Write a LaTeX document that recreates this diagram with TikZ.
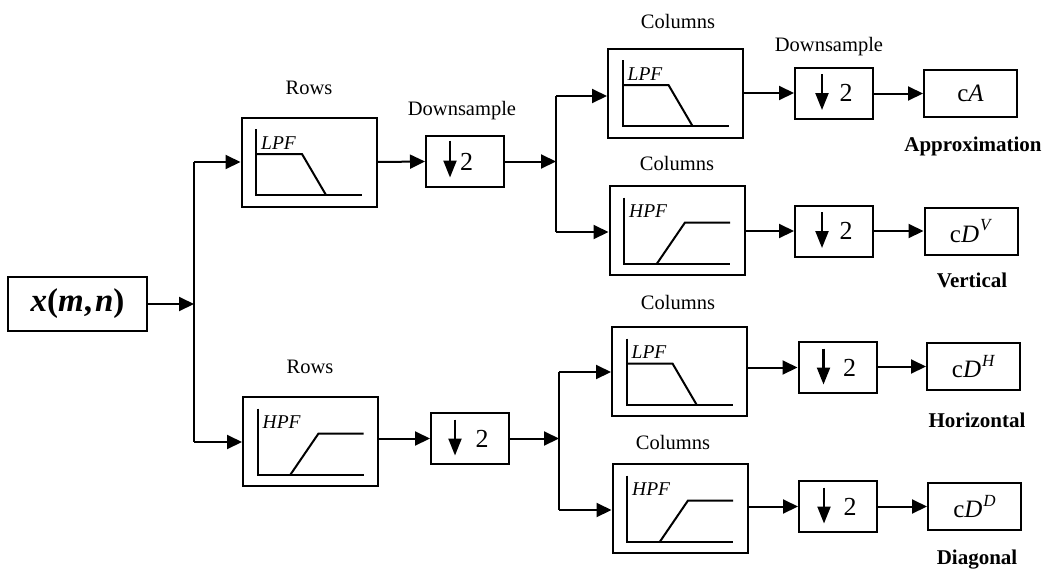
\documentclass[tikz,border=0pt]{standalone}
\usepackage{fontspec}
\setmainfont{Liberation Serif}
\usetikzlibrary{arrows.meta,calc}
\tikzset{
 blk/.style={draw, line width=2pt, inner sep=0pt},
 filt/.style={blk, minimum width=135pt, minimum height=89pt},
 dsbox/.style={blk, minimum width=78pt, minimum height=51pt, font=\fontsize{26}{28}\selectfont},
 outbox/.style={blk, minimum width=93pt, minimum height=47pt, font=\fontsize{25}{28}\selectfont},
 conn/.style={line width=2pt, -{Triangle[length=15pt,width=14pt]}},
 wire/.style={line width=2pt},
 glyph/.style={line width=2.2pt, -{Triangle[length=17pt,width=13pt]}},
 lbl/.style={font=\fontsize{20.5}{24}\selectfont, inner sep=0pt},
 blbl/.style={font=\bfseries\fontsize{21}{24}\selectfont, inner sep=0pt},
 gline/.style={line width=2pt},
 flab/.style={font=\itshape\fontsize{19.5}{22}\selectfont, inner sep=0pt, anchor=base west},
 lpf/.pic={\draw[gline] (-53,-33) -- (-53,33) -- (53,33);
           \draw[gline] (-53,-8) -- (-7,-8) -- (17,33);
           \node[flab] (-t) at (-48,-13) {LPF};},
 hpf/.pic={\draw[gline] (-53,-33) -- (-53,33) -- (53,33);
           \draw[gline] (-20,33) -- (8,-8) -- (53,-8);
           \node[flab] (-t) at (-48,-13) {HPF};}
}
\newcommand{\supit}[1]{\kern1pt\raisebox{0.45em}{\fontsize{17}{17}\selectfont\textit{#1}}}
\begin{document}
\begin{tikzpicture}[x=1pt,y=-1pt]
\useasboundingbox (0,0) rectangle (1052,571);
% input
\node[blk, minimum width=139pt, minimum height=54pt, font=\bfseries\fontsize{33}{36}\selectfont] (in) at (77.5,304) {\textit{x}(\textit{m},\kern3pt\textit{n})};
% row filters
\node[filt] (rowL) at (309,162) {};
\pic (gRL) at (rowL.center) {lpf};
\node[filt] (rowH) at (310.5,441.5) {};
\pic (gRH) at (rowH.center) {hpf};
\node[lbl] (tRows1) at (309,88) {Rows};
\node[lbl] (tRows2) at (310,367) {Rows};
% split 1
\coordinate (s1t) at (194,162);
\coordinate (s1b) at (194,442);
\draw[wire] (s1t) -- (s1b);
\draw[conn] (in.east) -- (in.east -| s1t);
\draw[conn] (s1t) -- (rowL.west);
\draw[conn] (s1b) -- (s1b -| rowH.west);
% row downsamplers
\node[dsbox] (dsR1) at (465,161.5) {\hspace*{3pt}2};
\draw[glyph] ($(dsR1.center)+(-15,-21)$) -- ++(0,37);
\node[dsbox] (dsR2) at (470,438.5) {\hspace*{24pt}2};
\draw[glyph] ($(dsR2.center)+(-15,-19)$) -- ++(0,36);
\node[lbl] (tDs1) at (462,111) {Downsample};
\draw[conn] (rowL.east) -- (dsR1.west);
\draw[conn] (rowH.east |- dsR2.west) -- (dsR2.west);
% split 2
\coordinate (s2t) at (556,96);
\coordinate (s2b) at (556,232);
\coordinate (s2m) at (556,162);
\draw[wire] (s2t) -- (s2b);
\draw[conn] (dsR1.east) -- (dsR1.east -| s2m);
% column filters upper
\node[filt] (colLL) at (675.5,93) {};
\pic (gLL) at (colLL.center) {lpf};
\node[filt] (colLH) at (677,230.5) {};
\pic (gLH) at (colLH.center) {hpf};
\node[lbl] (tCol1) at (678,21) {Columns};
\node[lbl] (tCol2) at (677,163) {Columns};
\draw[conn] (s2t) -- (s2t -| colLL.west);
\draw[conn] (s2b) -- (s2b -| colLH.west);
% downsamplers upper
\node[dsbox] (dsLL) at (834,93) {\hspace*{24pt}2};
\draw[glyph] ($(dsLL.center)+(-12,-19)$) -- ++(0,36);
\node[dsbox] (dsLH) at (834,231) {\hspace*{24pt}2};
\draw[glyph] ($(dsLH.center)+(-12,-19)$) -- ++(0,36);
\node[lbl] (tDs2) at (829,47) {Downsample};
\draw[conn] (colLL.east |- dsLL.west) -- (dsLL.west);
\draw[conn] (colLH.east |- dsLH.west) -- (dsLH.west);
% outputs upper
\node[outbox] (cA) at (970.5,93.5) {c\textit{A}};
\node[outbox] (cDV) at (971,231) {c\textit{D}\supit{V}};
\draw[conn] (dsLL.east |- cA.west) -- (cA.west);
\draw[conn] (dsLH.east |- cDV.west) -- (cDV.west);
\node[blbl] (tApp) at (973,146) {Approximation};
\node[blbl] (tVer) at (972,280) {Vertical};
% split 3
\coordinate (s3t) at (559,372);
\coordinate (s3b) at (559,510);
\coordinate (s3m) at (559,439);
\draw[wire] (s3t) -- (s3b);
\draw[conn] (dsR2.east) -- (dsR2.east -| s3m);
% column filters lower
\node[filt] (colHL) at (679.5,371.5) {};
\pic (gHL) at (colHL.center) {lpf};
\node[filt] (colHH) at (680,508.5) {};
\pic (gHH) at (colHH.center) {hpf};
\node[lbl] (tCol3) at (678,302) {Columns};
\node[lbl] (tCol4) at (673,442) {Columns};
\draw[conn] (s3t) -- (s3t -| colHL.west);
\draw[conn] (s3b) -- (s3b -| colHH.west);
% downsamplers lower
\node[dsbox] (dsHL) at (837.5,367.5) {\hspace*{24pt}2};
\draw[glyph] ($(dsHL.center)+(-14,-19)$) -- ++(0,36);
\node[dsbox] (dsHH) at (838,506.5) {\hspace*{24pt}2};
\draw[glyph] ($(dsHH.center)+(-14,-19)$) -- ++(0,36);
\draw[conn] (colHL.east |- dsHL.west) -- (dsHL.west);
\draw[conn] (colHH.east |- dsHH.west) -- (dsHH.west);
% outputs lower
\node[outbox] (cDH) at (973.5,366.5) {c\textit{D}\supit{H}};
\node[outbox] (cDD) at (974.5,506.5) {c\textit{D}\supit{D}};
\draw[conn] (dsHL.east |- cDH.west) -- (cDH.west);
\draw[conn] (dsHH.east |- cDD.west) -- (cDD.west);
\node[blbl] (tHor) at (977,420) {Horizontal};
\node[blbl] (tDia) at (977,560) {Diagonal};
\end{tikzpicture}
\end{document}
